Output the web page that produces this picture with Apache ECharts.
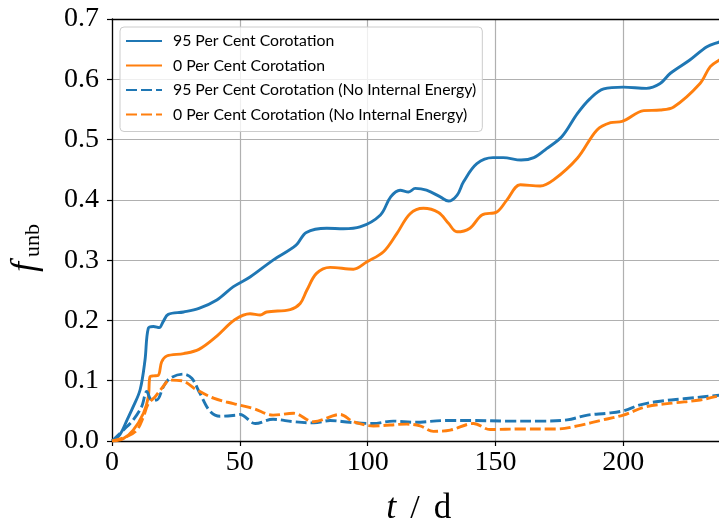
<!DOCTYPE html>
<html>
<head>
<meta charset="utf-8">
<script src="https://cdn.jsdelivr.net/npm/echarts@6/dist/echarts.min.js"></script>
<style>
  html, body { margin: 0; padding: 0; background: #ffffff; }
  #chart { width: 719px; height: 529px; }
</style>
</head>
<body>
<div id="chart"></div>
<script>
// Unbound mass fraction against time (days)

// 95 per cent corotation
const t95 = [0, 3, 6, 8.3, 11, 12.9, 14.2, 16.2, 18.5, 20, 22, 28, 34, 41, 47.5, 54, 63, 72, 76, 84, 90.5, 97, 105, 109, 112.7, 116, 118.6, 123, 128.4, 131.6, 135, 137.5, 142.7, 149, 153, 160, 165, 170, 176, 182, 187, 192.3, 200, 209, 214.4, 218.4, 226, 232.7, 237.6, 240];
const f95 = [0, 0.01, 0.036, 0.057, 0.085, 0.134, 0.187, 0.19, 0.188, 0.198, 0.21, 0.214, 0.22, 0.234, 0.256, 0.272, 0.300, 0.325, 0.346, 0.353, 0.352, 0.355, 0.375, 0.405, 0.416, 0.413, 0.419, 0.416, 0.405, 0.398, 0.408, 0.43, 0.46, 0.47, 0.47, 0.466, 0.47, 0.485, 0.505, 0.543, 0.568, 0.584, 0.587, 0.585, 0.593, 0.61, 0.632, 0.654, 0.662, 0.666];

// 0 per cent corotation
const t0 = [0, 4.4, 8.3, 12.3, 14.2, 14.9, 16.2, 18.1, 19.4, 21.4, 28, 34, 41, 48, 54, 58, 60.5, 69.7, 73.6, 76.2, 80, 85.3, 94.4, 99.6, 106.2, 111.4, 116.6, 121.8, 127.7, 131.6, 134.9, 140, 144.7, 150.5, 154.5, 159.7, 167.5, 172.7, 182, 189.7, 195, 199.5, 208, 214.4, 219.7, 230, 234, 237.6, 240];
const f0 = [0, 0.004, 0.018, 0.046, 0.073, 0.107, 0.108, 0.109, 0.131, 0.141, 0.145, 0.152, 0.174, 0.201, 0.211, 0.209, 0.214, 0.218, 0.228, 0.25, 0.278, 0.288, 0.285, 0.297, 0.314, 0.344, 0.377, 0.386, 0.379, 0.361, 0.347, 0.353, 0.375, 0.380, 0.400, 0.425, 0.423, 0.433, 0.469, 0.516, 0.528, 0.530, 0.548, 0.549, 0.554, 0.593, 0.621, 0.632, 0.638];

// 95 per cent corotation, no internal energy
const t95n = [0, 4.4, 8.3, 11.6, 13.6, 15.5, 17.5, 20.1, 22.7, 27.9, 31.2, 34.4, 38.4, 42.3, 48.8, 50.1, 56, 63, 71, 79, 85.3, 93, 102, 110, 118, 131, 141, 154.5, 167.5, 178, 186, 193.6, 200, 206.6, 214.4, 223.6, 237.6, 240];
const f95n = [0, 0.018, 0.035, 0.057, 0.082, 0.068, 0.068, 0.09, 0.104, 0.111, 0.104, 0.079, 0.049, 0.041, 0.043, 0.044, 0.029, 0.036, 0.032, 0.030, 0.034, 0.031, 0.029, 0.033, 0.031, 0.034, 0.034, 0.033, 0.033, 0.035, 0.043, 0.046, 0.050, 0.060, 0.066, 0.070, 0.076, 0.077];

// 0 per cent corotation, no internal energy
const t0n = [0, 5.7, 9.7, 12.3, 14.2, 16.8, 19.4, 22.7, 27.2, 33.1, 39.7, 47.5, 55.3, 63, 71, 78.8, 89.2, 94.4, 102.3, 115.3, 120.5, 125.7, 132.3, 141.4, 147.9, 161, 174, 182, 191, 200, 209, 219.7, 230, 237.6, 240];
const f0n = [0, 0.007, 0.018, 0.040, 0.062, 0.073, 0.087, 0.101, 0.100, 0.085, 0.071, 0.062, 0.054, 0.043, 0.046, 0.032, 0.044, 0.032, 0.025, 0.028, 0.025, 0.016, 0.018, 0.029, 0.019, 0.020, 0.020, 0.025, 0.034, 0.043, 0.057, 0.063, 0.068, 0.075, 0.076];

const seriesNames = [
  '95 Per Cent Corotation',
  '0 Per Cent Corotation',
  '95 Per Cent Corotation (No Internal Energy)',
  '0 Per Cent Corotation (No Internal Energy)'
];

const xMin = 0, xMax = 240, xStep = 50;
const yMin = 0, yMax = 0.7, yStep = 0.1;

const BLUE = '#1f77b4';
const ORANGE = '#ff7f0e';
const SERIF = '"Liberation Serif", "DejaVu Serif", serif';

function pairs(xs, ys) { return xs.map((x, i) => [x, ys[i]]); }

function lineSeries(name, xs, ys, color, dashed) {
  return {
    name: name,
    type: 'line',
    data: pairs(xs, ys),
    symbol: 'none',
    showSymbol: false,
    smooth: 0.35,
    lineStyle: { color: color, width: 2.9, type: dashed ? [11, 4] : 'solid', cap: 'butt', join: 'round' },
    itemStyle: { color: color },
    z: 3
  };
}

const chart = echarts.init(document.getElementById('chart'), null, { renderer: 'canvas' });

chart.setOption({
  animation: false,
  backgroundColor: '#ffffff',
  grid: {
    left: 112, top: 19, width: (xMax - xMin) * 2.5567, height: 422,
    containLabel: false, outerBoundsMode: 'none'
  },
  legend: {
    orient: 'vertical',
    left: 120,
    top: 27,
    data: seriesNames,
    itemWidth: 36,
    itemHeight: 14,
    itemGap: 8.5,
    padding: [6, 6, 9, 5],
    backgroundColor: 'rgba(255,255,255,0.8)',
    borderColor: '#cccccc',
    borderWidth: 1,
    borderRadius: 4,
    selectedMode: false,
    itemStyle: { opacity: 0 },
    textStyle: { fontFamily: 'Lato, "DejaVu Sans", sans-serif', fontSize: 15.8, color: '#000', padding: [0, 0, 0, 6] }
  },
  xAxis: [{
    type: 'value',
    min: xMin,
    max: xMax,
    interval: xStep,
    position: 'bottom',
    axisLine: { show: true, onZero: false, lineStyle: { color: '#000', width: 1.3 } },
    axisTick: { show: true, inside: false, length: 5, lineStyle: { color: '#000', width: 1.2 } },
    axisLabel: { fontFamily: SERIF, fontSize: 28, color: '#000', margin: 8, showMaxLabel: false },
    splitLine: { show: true, lineStyle: { color: '#b0b0b0', width: 1.2 } },
    name: '{t|t}{sl|/}{d|d}',
    nameLocation: 'middle',
    nameGap: 50,
    nameTextStyle: {
      fontFamily: SERIF, fontSize: 34, color: '#000',
      rich: {
        t: { fontFamily: SERIF, fontSize: 36, fontStyle: 'italic', color: '#000', padding: [0, 12, 0, 0] },
        sl: { fontFamily: SERIF, fontSize: 34, color: '#000', padding: [0, 14, 0, 2] },
        d: { fontFamily: SERIF, fontSize: 35, color: '#000' }
      }
    }
  }, {
    type: 'value',
    min: xMin,
    max: xMax,
    position: 'top',
    axisLine: { show: true, onZero: false, lineStyle: { color: '#000', width: 1.3 } },
    axisTick: { show: false },
    axisLabel: { show: false },
    splitLine: { show: false }
  }],
  yAxis: {
    type: 'value',
    min: yMin,
    max: yMax,
    interval: yStep,
    axisLine: { show: true, onZero: false, lineStyle: { color: '#000', width: 1.3 } },
    axisTick: { show: true, inside: false, length: 5, lineStyle: { color: '#000', width: 1.2 } },
    axisLabel: { fontFamily: SERIF, fontSize: 28, color: '#000', margin: 13, formatter: v => v.toFixed(1) },
    splitLine: { show: true, lineStyle: { color: '#b0b0b0', width: 1.2 } },
    name: '{f|f}{s|unb}',
    nameLocation: 'middle',
    nameRotate: 90,
    nameGap: 68,
    nameTextStyle: {
      color: '#000',
      rich: {
        f: { fontFamily: SERIF, fontSize: 36, fontStyle: 'italic', color: '#000', lineHeight: 36, verticalAlign: 'top', padding: [0, 2, 0, 0] },
        s: { fontFamily: SERIF, fontSize: 22, color: '#000', lineHeight: 24, verticalAlign: 'bottom', padding: [20, 36, 0, 3] }
      }
    }
  },
  series: [
    lineSeries(seriesNames[0], t95, f95, BLUE, false),
    lineSeries(seriesNames[1], t0, f0, ORANGE, false),
    lineSeries(seriesNames[2], t95n, f95n, BLUE, true),
    lineSeries(seriesNames[3], t0n, f0n, ORANGE, true)
  ]
});
</script>
</body>
</html>
